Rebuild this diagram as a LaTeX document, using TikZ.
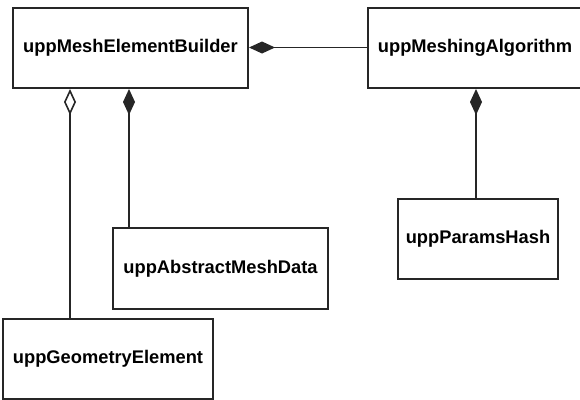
\documentclass[tikz,border=0pt]{standalone}
\usepackage{fontspec}
\setmainfont{Liberation Sans}
\usetikzlibrary{arrows.meta}
\begin{document}
\begin{tikzpicture}[x=1pt,y=-1pt,
  cls/.style={draw=black!85,line width=2pt,fill=white,inner sep=0pt,
    minimum height=80pt,font=\fontsize{18.3}{21}\selectfont\bfseries},
  comp/.style={draw=black!85,line width=1.6pt,
    {Diamond[length=26pt,width=12pt]}-},
  aggr/.style={draw=black!85,line width=1.6pt,
    {Diamond[open,length=26pt,width=12pt,fill=white]}-}]
\clip (0,0) rectangle (580,399);
\useasboundingbox (0,0) rectangle (580,399);
\node [cls,minimum width=235pt] (builder) at (130.5,48) {uppMeshElementBuilder};
\node [cls,minimum width=214pt] (algo) at (475,48) {uppMeshingAlgorithm};
\node [cls,minimum width=160pt] (params) at (478,239) {uppParamsHash};
\node [cls,minimum width=215pt,minimum height=81pt] (absdata) at (220.5,268.5) {uppAbstractMeshData};
\node [cls,minimum width=210pt] (geom) at (108,359) {uppGeometryElement};
\draw [comp] ([yshift=0.5pt]builder.east) -- ([yshift=0.5pt]algo.west);
\draw [aggr] ([xshift=58pt]builder.south west) coordinate (ag) -- (ag |- geom.north);
\draw [comp] ([xshift=117pt]builder.south west) coordinate (cp) -- (cp |- absdata.north);
\draw [comp] ([xshift=1pt]algo.south) coordinate (pa) -- (pa |- params.north);
\end{tikzpicture}
\end{document}
